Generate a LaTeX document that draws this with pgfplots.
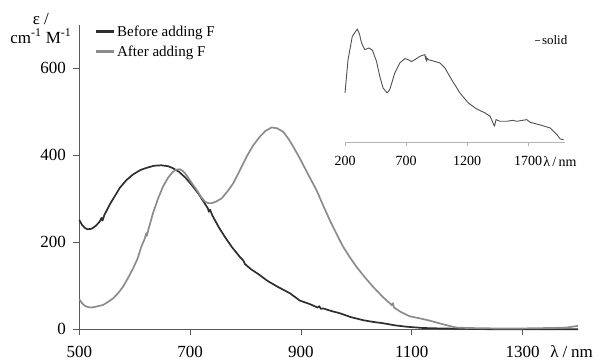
\documentclass[border=0pt]{standalone}
\usepackage{pgfplots}
\pgfplotsset{compat=1.18}
\usepackage{fontspec}
\setmainfont{Liberation Serif}
\definecolor{cblack}{HTML}{2E2E2E}
\definecolor{cgray}{HTML}{8C8C8C}
\definecolor{caxis}{HTML}{5A5A5A}
\definecolor{cinset}{HTML}{505050}
\definecolor{cinaxis}{HTML}{B4B4B4}
\begin{document}
\begin{tikzpicture}
\path[use as bounding box] (0pt,0pt) rectangle (602pt,363pt);
\begin{axis}[
  at={(79.3pt,33.7pt)}, anchor=south west,
  scale only axis, width=498.7pt, height=304.5pt,
  xmin=500, xmax=1400, ymin=0, ymax=700,
  axis x line=bottom, axis y line=left,
  axis line style={-, color=caxis, line width=0.8pt},
  tick align=outside, major tick length=6pt,
  tick style={color=caxis, line width=0.8pt},
  xtick={500,700,900,1100,1300}, ytick={0,200,400,600},
  /pgf/number format/assume math mode=true,
  /pgf/number format/1000 sep={},
  tick label style={font=\fontsize{17}{20}\selectfont},
  xticklabel style={yshift=-7pt},
  yticklabel style={xshift=-4pt},
  clip=false,
  legend cell align=left,
  legend style={at={(rel axis cs:0.031,1.005)}, anchor=north west, draw=none, fill=none,
    font=\fontsize{15}{17}\selectfont, row sep=4pt, inner sep=0pt},
  legend image code/.code={\draw[#1, line width=2.2pt] (0pt,0pt) -- (18pt,0pt);},
]
\addplot[cblack, line width=1.7pt, line join=round] coordinates {
(500,251)(505,240)(510,233)(515,230)(522,231)(530,238)(537,248)(540,256)(542,250)(545,262)
(555,287)(565,308)(573,325)(585,343)(597,356)(610,366)(621,371)(635,376)(648,377)(660,375)
(668,371)(680,362)(692,348)(704,330)(716,310)(725,292)(732,278)(734,270)(736,275)(740,262)
(752,234)(764,210)(776,188)(790,166)(796,158)(799,150)(810,138)(823,127)(840,111)(859,97)
(880,83)(898,66)(916,58)(930,50)(933,53)(936,47)(940,48)(955,42)(970,37)(990,28)
(1012,21)(1030,17)(1048,14)(1070,9)(1090,6)(1120,3)(1150,2)(1200,1)(1250,0)(1300,0)(1350,0)(1400,0)
};
\addlegendentry{Before adding F}
\addplot[cgray, line width=1.7pt, line join=round] coordinates {
(500,69)(505,60)(510,54)(516,51)(522,50)(530,52)(543,56)(552,63)(561,71)(570,83)
(579,98)(588,118)(597,140)(605,162)(612,190)(618,208)(621,221)(622,215)(624,226)(633,267)
(642,300)(651,328)(660,348)(669,362)(675,367)(681,368)(687,364)(693,355)(702,338)(712,320)
(720,304)(727,293)(733,290)(739,290)(746,293)(757,301)(768,318)(778,336)(790,366)(802,397)
(814,423)(826,443)(836,456)(847,464)(857,462)(868,454)(878,437)(886,420)(898,393)(904,378)
(916,349)(928,320)(940,285)(952,251)(964,220)(976,190)(988,166)(1000,144)(1015,120)(1030,98)
(1048,74)(1062,58)(1064,55)(1066,60)(1068,50)(1080,40)(1096,30)(1115,25)(1132,20)(1155,12)
(1180,4)(1200,3)(1250,2)(1300,2)(1350,3)(1380,4)(1400,8)
};
\addlegendentry{After adding F}
\node[anchor=base west, font=\fontsize{17}{20}\selectfont, inner sep=0pt] at (axis description cs:0.944,0) [yshift=-28.3pt] {λ\hspace{4pt}/\hspace{4pt}nm};
\node[align=center, font=\fontsize{17}{19}\selectfont, inner sep=0pt] at (axis description cs:-0.077,0.989) {ε /\\cm\textsuperscript{-1} M\textsuperscript{-1}};
\end{axis}
\begin{axis}[
  at={(345pt,220.7pt)}, anchor=south west,
  scale only axis, width=219.6pt, height=120pt,
  xmin=200, xmax=2000, ymin=0, ymax=360,
  axis x line=bottom, axis y line=none,
  axis line style={-, color=cinaxis, line width=0.8pt},
  tick align=outside, major tick length=4pt,
  tick style={color=cinaxis, line width=0.8pt},
  xtick={200,700,1200,1700},
  /pgf/number format/assume math mode=true,
  /pgf/number format/1000 sep={},
  tick label style={font=\fontsize{14}{16}\selectfont},
  xticklabel style={yshift=-6pt},
  clip=false,
  legend style={at={(rel axis cs:0.86,0.85)}, anchor=west, draw=none, fill=none,
    font=\fontsize{13}{15}\selectfont, inner sep=0pt},
  legend image code/.code={\draw[#1, line width=1pt] (0pt,0pt) -- (5pt,0pt);},
]
\addplot[cinset, line width=0.9pt, line join=round] coordinates {
(200,148)(225,248)(260,318)(279,328)(301,340)(320,323)(334,300)(348,288)(362,278)(397,283)
(425,276)(458,243)(485,198)(512,163)(545,148)(567,158)(608,208)(649,238)(690,251)(718,248)
(745,242)(773,248)(814,258)(855,263)(860,250)(864,258)(868,243)(875,252)(882,248)(923,244)
(978,238)(1019,223)(1074,188)(1142,148)(1211,118)(1279,100)(1348,88)(1389,78)(1411,60)(1425,48)
(1438,68)(1471,63)(1526,63)(1575,66)(1608,63)(1690,68)(1718,60)(1800,52)(1882,43)(1937,23)
(1964,10)(1992,8)
};
\addlegendentry{solid}
\node[anchor=base west, font=\fontsize{14}{16}\selectfont, inner sep=0pt] at (axis description cs:0.902,0) [yshift=-24.3pt] {λ\,/\,nm};
\end{axis}
\end{tikzpicture}
\end{document}
